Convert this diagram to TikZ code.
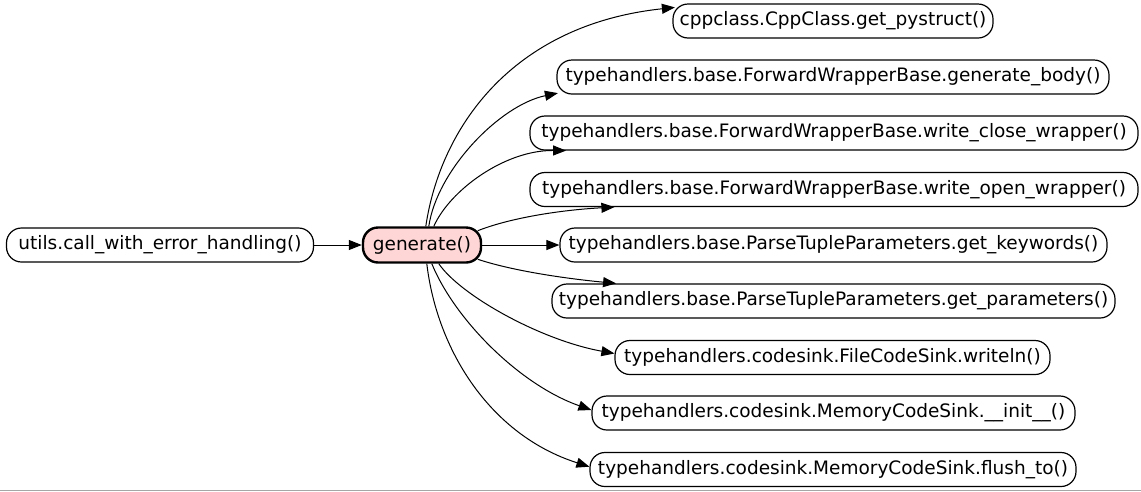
\documentclass[tikz,border=0pt]{standalone}
\usepackage{fontspec}
\setmainfont{DejaVu Sans}
\usetikzlibrary{arrows.meta}
\definecolor{genfill}{RGB}{255,214,214}
\begin{document}
\begin{tikzpicture}[x=1pt,y=1pt,
  fn/.style={draw, rounded corners=15pt, line width=1.2pt, minimum height=34pt,
    inner sep=0pt, font=\fontsize{18.5}{20}\selectfont, text=black, fill=white},
  genbox/.style={fn, line width=2.4pt, fill=genfill},
  edge/.style={line width=1pt, -{Triangle[length=13pt,width=10pt]}}]
\fill[white] (0,0) rectangle (1141,-491);
\useasboundingbox (0,0) rectangle (1141,-491);
\draw[gray!70, line width=1pt] (0,-490) -- (1141,-490);

\node[fn, minimum width=307pt] (utils) at (160,-245) {utils.call\_with\_error\_handling()};
\node[genbox, minimum width=118pt, minimum height=35pt] (gen) at (422,-245) {generate()};

\node[fn, minimum width=320pt] (t1) at (833,-21) {cppclass.CppClass.get\_pystruct()};
\node[fn, minimum width=552pt] (t2) at (833,-77) {typehandlers.base.ForwardWrapperBase.generate\_body()};
\node[fn, minimum width=608pt] (t3) at (834,-133) {typehandlers.base.ForwardWrapperBase.write\_close\_wrapper()};
\node[fn, minimum width=608pt] (t4) at (834,-189.5) {typehandlers.base.ForwardWrapperBase.write\_open\_wrapper()};
\node[fn, minimum width=547pt] (t5) at (833.5,-245) {typehandlers.base.ParseTupleParameters.get\_keywords()};
\node[fn, minimum width=563pt] (t6) at (833.5,-301) {typehandlers.base.ParseTupleParameters.get\_parameters()};
\node[fn, minimum width=435pt] (t7) at (832.5,-357.5) {typehandlers.codesink.FileCodeSink.writeln()};
\node[fn, minimum width=483pt] (t8) at (833.5,-413) {typehandlers.codesink.MemoryCodeSink.\_\_init\_\_()};
\node[fn, minimum width=486pt] (t9) at (833,-469.5) {typehandlers.codesink.MemoryCodeSink.flush\_to()};

\draw[edge] (utils) -- (gen);
\draw[edge] ([xshift=64pt]gen.north west) .. controls (440,-130) and (510,-25) .. ([xshift=2.5pt,yshift=-4pt]t1.north west);
\draw[edge] ([xshift=67pt]gen.north west) .. controls (437,-170) and (500,-105) .. ([xshift=1.5pt,yshift=1.5pt]t2.south west);
\draw[edge] ([xshift=72pt]gen.north west) .. controls (450,-190) and (505,-150) .. ([xshift=36.7pt]t3.south west);
\draw[edge] ([xshift=-4.4pt,yshift=-4.4pt]gen.north east) .. controls (510,-218) and (560,-210) .. ([xshift=85pt]t4.south west);
\draw[edge] (gen.east) -- (t5.west);
\draw[edge] ([xshift=-4.4pt,yshift=4.4pt]gen.south east) .. controls (510,-270) and (560,-278) .. ([xshift=64.7pt]t6.north west);
\draw[edge] ([xshift=77pt]gen.south west) .. controls (460,-295) and (540,-340) .. ([yshift=4pt]t7.west);
\draw[edge] ([xshift=70pt]gen.south west) .. controls (455,-320) and (520,-385) .. ([yshift=3pt]t8.west);
\draw[edge] ([xshift=65pt]gen.south west) .. controls (437,-350) and (490,-435) .. ([yshift=2.8pt]t9.west);
\end{tikzpicture}
\end{document}
